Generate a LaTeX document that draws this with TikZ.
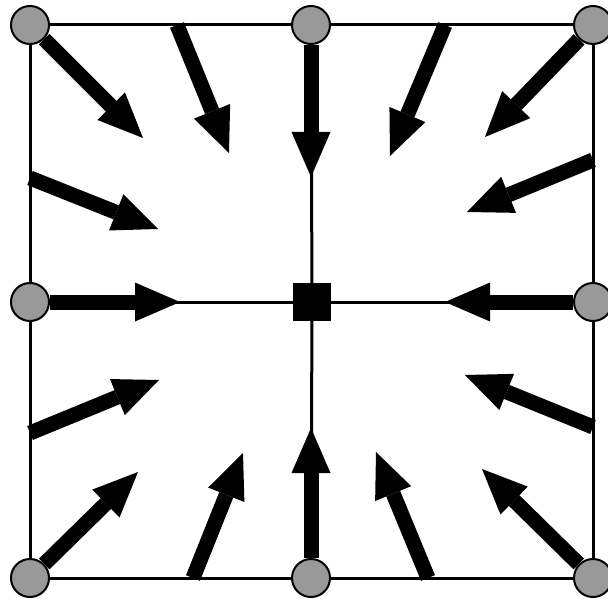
\documentclass[tikz,border=0pt]{standalone}
\usepackage{xcolor}
\usepackage{tikz}
\usetikzlibrary{arrows.meta}
\definecolor{nodegray}{HTML}{999999}
\tikzset{
  gridnode/.style={
    circle, draw=black, fill=nodegray, line width=2pt,
    minimum size=38pt, inner sep=0pt
  },
  centernode/.style={
    rectangle, fill=black, minimum size=38pt, inner sep=0pt
  },
  gridline/.style={
    line width=3pt, color=black
  },
  flowarrow/.style={
    -{Triangle[length=45pt, width=39pt, line width=0pt]},
    line width=15pt, color=black
  },
}

\begin{document}
\begin{tikzpicture}[x=1pt, y=-1pt]
\useasboundingbox (0,0) rectangle (608,599);

% Grid nodes and the centre
\node[gridnode] (tl) at (30,25) {};
\node[gridnode] (t) at (311,25) {};
\node[gridnode] (tr) at (593,25) {};
\node[gridnode] (l) at (30,302) {};
\node[centernode] (ctr) at (312,302) {};
\node[gridnode] (r) at (593,302) {};
\node[gridnode] (bl) at (30,578) {};
\node[gridnode] (b) at (311,578) {};
\node[gridnode] (br) at (593,578) {};

% Cell edges
\draw[gridline] (tl) -- (t);
\draw[gridline] (t) -- (tr);
\draw[gridline] (tr) -- (r);
\draw[gridline] (r) -- (br);
\draw[gridline] (br) -- (b);
\draw[gridline] (b) -- (bl);
\draw[gridline] (bl) -- (l);
\draw[gridline] (l) -- (tl);
\draw[gridline] (t) -- (ctr);
\draw[gridline] (ctr) -- (b);
\draw[gridline] (l) -- (ctr);
\draw[gridline] (ctr) -- (r);

% Start points on the edges
\coordinate (t-left) at (177,25);
\coordinate (t-right) at (445,25);
\coordinate (l-top) at (30,178);
\coordinate (l-bot) at (30,433);
\coordinate (r-top) at (593,160);
\coordinate (r-bot) at (593,427);
\coordinate (b-left) at (193,578);
\coordinate (b-right) at (428,578);

% Arrow tips
\coordinate (tip-tl) at (143,138);
\coordinate (tip-tr) at (485,137);
\coordinate (tip-bl) at (138,472);
\coordinate (tip-br) at (482,469);
\coordinate (tip-tleft) at (229,153);
\coordinate (tip-tright) at (390,156);
\coordinate (tip-ltop) at (158,229);
\coordinate (tip-lbot) at (159,380);
\coordinate (tip-rtop) at (467,212);
\coordinate (tip-rbot) at (465,375);
\coordinate (tip-bleft) at (243,453);
\coordinate (tip-bright) at (376,452);
\coordinate (tip-t) at (311,177);
\coordinate (tip-b) at (311,428);
\coordinate (tip-l) at (180,302);
\coordinate (tip-r) at (445,302);

% Arrows from the grid nodes
\draw[flowarrow] (tl) -- (tip-tl);
\draw[flowarrow] (tr) -- (tip-tr);
\draw[flowarrow] (bl) -- (tip-bl);
\draw[flowarrow] (br) -- (tip-br);
\draw[flowarrow] (t) -- (tip-t);
\draw[flowarrow] (b) -- (tip-b);
\draw[flowarrow] (l) -- (tip-l);
\draw[flowarrow] (r) -- (tip-r);

% Arrows from the edges
\draw[flowarrow] (t-left) -- (tip-tleft);
\draw[flowarrow] (t-right) -- (tip-tright);
\draw[flowarrow] (l-top) -- (tip-ltop);
\draw[flowarrow] (l-bot) -- (tip-lbot);
\draw[flowarrow] (r-top) -- (tip-rtop);
\draw[flowarrow] (r-bot) -- (tip-rbot);
\draw[flowarrow] (b-left) -- (tip-bleft);
\draw[flowarrow] (b-right) -- (tip-bright);

\end{tikzpicture}
\end{document}
